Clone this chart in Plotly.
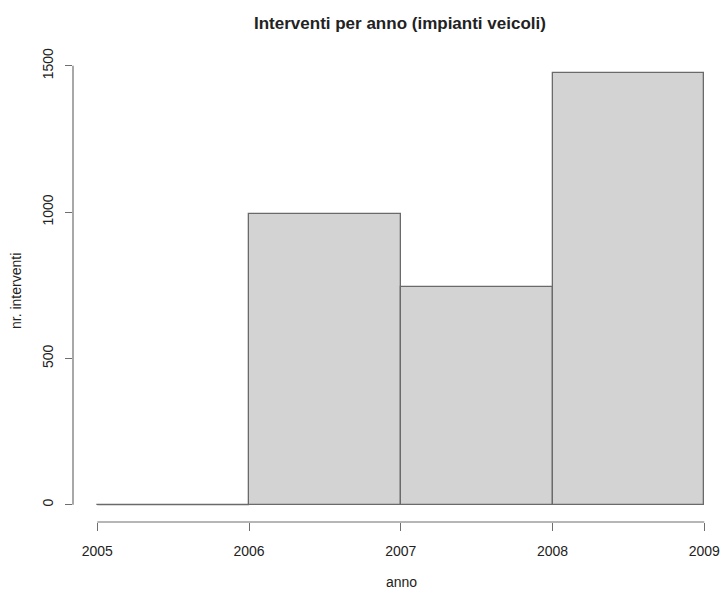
import plotly.graph_objects as go

# Data
bin_edges = [2005, 2006, 2007, 2008, 2009]
counts = [0, 993, 743, 1477]
y_ticks = [0, 500, 1000, 1500]
x_ticks = [2005, 2006, 2007, 2008, 2009]
title = "Interventi per anno (impianti veicoli)"
x_label = "anno"
y_label = "nr. interventi"

mids = [(a + b) / 2 for a, b in zip(bin_edges[:-1], bin_edges[1:])]
widths = [b - a for a, b in zip(bin_edges[:-1], bin_edges[1:])]

FONT = "Liberation Sans, Arial, Helvetica, sans-serif"
TXT = "#222222"
AX = "#6e6e6e"

W, H = 721, 589
ML, MR, MT, MB = 73, 0, 56, 67
PW, PH = W - ML - MR, H - MT - MB

fig = go.Figure()
fig.add_trace(go.Bar(
    x=mids, y=counts, width=widths,
    marker=dict(color="#d3d3d3", line=dict(color="#6a6a6a", width=1.3)),
    showlegend=False, hoverinfo="x+y",
))
# zero-height bin drawn as a flat line like R's hist
for m, w, c in zip(mids, widths, counts):
    if c == 0:
        fig.add_trace(go.Scatter(x=[m - w / 2, m + w / 2], y=[0, 0], mode="lines",
                                 line=dict(color="#6a6a6a", width=1.3),
                                 showlegend=False, hoverinfo="skip"))

ymax = max(counts)
pad = 0.04 * ymax
xr0 = bin_edges[0] - 0.04 * (bin_edges[-1] - bin_edges[0])
px_per_year = 151.75
px_per_unit = 0.2926

# R-style axis lines spanning first..last tick
fig.add_shape(type="line", xref="paper", yref="y", x0=0, x1=0,
              y0=y_ticks[0], y1=y_ticks[-1], line=dict(color=AX, width=1.2))
fig.add_shape(type="line", xref="x", yref="paper", x0=x_ticks[0], x1=x_ticks[-1],
              y0=0, y1=0, line=dict(color=AX, width=1.2))


def px(xp):
    return (xp - ML) / PW


def py(yp):
    return (H - MB - yp) / PH


annotations = [
    dict(text="<b>" + title + "</b>", xref="paper", yref="paper",
         x=px(400), y=py(23), xanchor="center", yanchor="middle",
         showarrow=False, font=dict(family=FONT, size=17, color=TXT)),
    dict(text=x_label, xref="paper", yref="paper",
         x=px(401), y=py(582), xanchor="center", yanchor="middle",
         showarrow=False, font=dict(family=FONT, size=14, color=TXT)),
    dict(text=y_label, xref="paper", yref="paper", textangle=-90,
         x=px(16), y=py(291), xanchor="center", yanchor="middle",
         showarrow=False, font=dict(family=FONT, size=14, color=TXT)),
]

fig.update_layout(
    width=W, height=H,
    margin=dict(l=ML, r=MR, t=MT, b=MB),
    paper_bgcolor="white", plot_bgcolor="white",
    font=dict(family=FONT, size=14, color=TXT),
    bargap=0,
    annotations=annotations,
    xaxis=dict(range=[xr0, xr0 + PW / px_per_year], tickvals=x_ticks,
               ticktext=[str(v) for v in x_ticks], automargin=False,
               showgrid=False, zeroline=False, showline=False,
               ticks="outside", ticklen=8, tickwidth=1.2, tickcolor=AX,
               tickfont=dict(size=14, color=TXT), ticklabelstandoff=8),
    yaxis=dict(range=[-pad, -pad + PH / px_per_unit], tickvals=y_ticks,
               ticktext=[str(v) for v in y_ticks], automargin=False,
               showgrid=False, zeroline=False, showline=False,
               ticks="outside", ticklen=7, tickwidth=1.2, tickcolor=AX,
               tickangle=-90,
               tickfont=dict(size=14, color=TXT), ticklabelstandoff=6),
)

fig.write_html(
    "out.html",
    config={"displayModeBar": False},
    post_script="document.body.style.margin='0';document.body.style.overflow='hidden';",
)
